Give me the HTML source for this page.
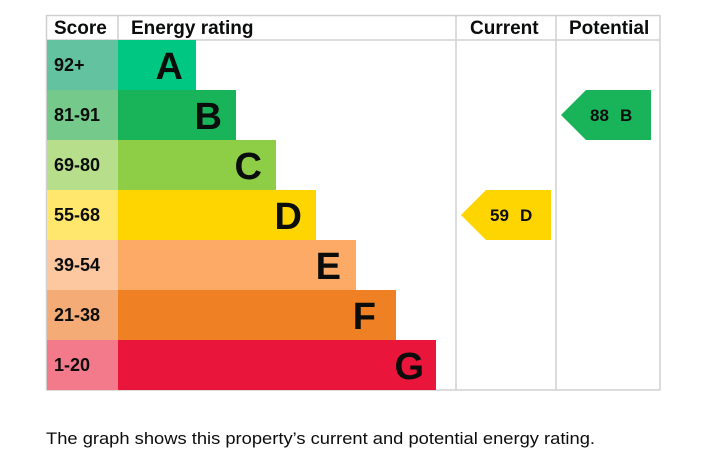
<!DOCTYPE html>
<html><head><style>
body{margin:0;background:#fff;width:716px;height:476px;overflow:hidden}
svg{display:block}
</style></head><body>
<svg width="716" height="476" xmlns="http://www.w3.org/2000/svg" font-family="Liberation Sans, Arial, sans-serif">
<g fill="none" stroke="#d0d0d0" stroke-width="1.5">
<line x1="46" y1="15.5" x2="660" y2="15.5"/>
<line x1="46" y1="40" x2="660" y2="40"/>
<line x1="46" y1="390" x2="660" y2="390"/>
<line x1="46.5" y1="15" x2="46.5" y2="390"/>
<line x1="118" y1="15" x2="118" y2="40"/>
<line x1="456" y1="15" x2="456" y2="390"/>
<line x1="556" y1="15" x2="556" y2="390"/>
<line x1="660" y1="15" x2="660" y2="390"/>
</g>
<g font-weight="bold" font-size="19" fill="#0b0c0c">
<text x="54" y="34">Score</text>
<text x="131" y="34">Energy rating</text>
<text x="470" y="34">Current</text>
<text x="569" y="34">Potential</text>
</g>
<g>
<rect x="47" y="40" width="71" height="50" fill="#63c3a0"/><rect x="118" y="40" width="78" height="50" fill="#00c781"/>
<rect x="47" y="90" width="71" height="50" fill="#75c98a"/><rect x="118" y="90" width="118" height="50" fill="#19b459"/>
<rect x="47" y="140" width="71" height="50" fill="#b7de8a"/><rect x="118" y="140" width="158" height="50" fill="#8dce46"/>
<rect x="47" y="190" width="71" height="50" fill="#ffe66d"/><rect x="118" y="190" width="198" height="50" fill="#ffd500"/>
<rect x="47" y="240" width="71" height="50" fill="#fdc79f"/><rect x="118" y="240" width="238" height="50" fill="#fcaa65"/>
<rect x="47" y="290" width="71" height="50" fill="#f4ab76"/><rect x="118" y="290" width="278" height="50" fill="#ef8023"/>
<rect x="47" y="340" width="71" height="50" fill="#f27a8b"/><rect x="118" y="340" width="318" height="50" fill="#e9153b"/>
</g>
<g font-weight="bold" font-size="18" fill="#0b0c0c">
<text x="54" y="71">92+</text><text x="54" y="121">81-91</text><text x="54" y="171">69-80</text>
<text x="54" y="221">55-68</text><text x="54" y="271">39-54</text><text x="54" y="321">21-38</text><text x="54" y="371">1-20</text>
</g>
<g font-weight="bold" font-size="38" fill="#0b0c0c" text-anchor="end">
<text x="183" y="79">A</text><text x="222" y="129">B</text><text x="262" y="179">C</text>
<text x="302" y="229">D</text><text x="341" y="279">E</text><text x="376" y="329">F</text><text x="424" y="379">G</text>
</g>
<polygon points="461,215 486,190 551,190 551,240 486,240" fill="#ffd500"/>
<polygon points="561,115 586,90 651,90 651,140 586,140" fill="#19b459"/>
<g font-weight="bold" font-size="17" fill="#0b0c0c">
<text x="490" y="221">59</text><text x="520" y="221">D</text>
<text x="590" y="121">88</text><text x="620" y="121">B</text>
</g>
<text x="46" y="444" font-size="17" fill="#0b0c0c" textLength="549" lengthAdjust="spacingAndGlyphs">The graph shows this property’s current and potential energy rating.</text>
</svg>
</body></html>
